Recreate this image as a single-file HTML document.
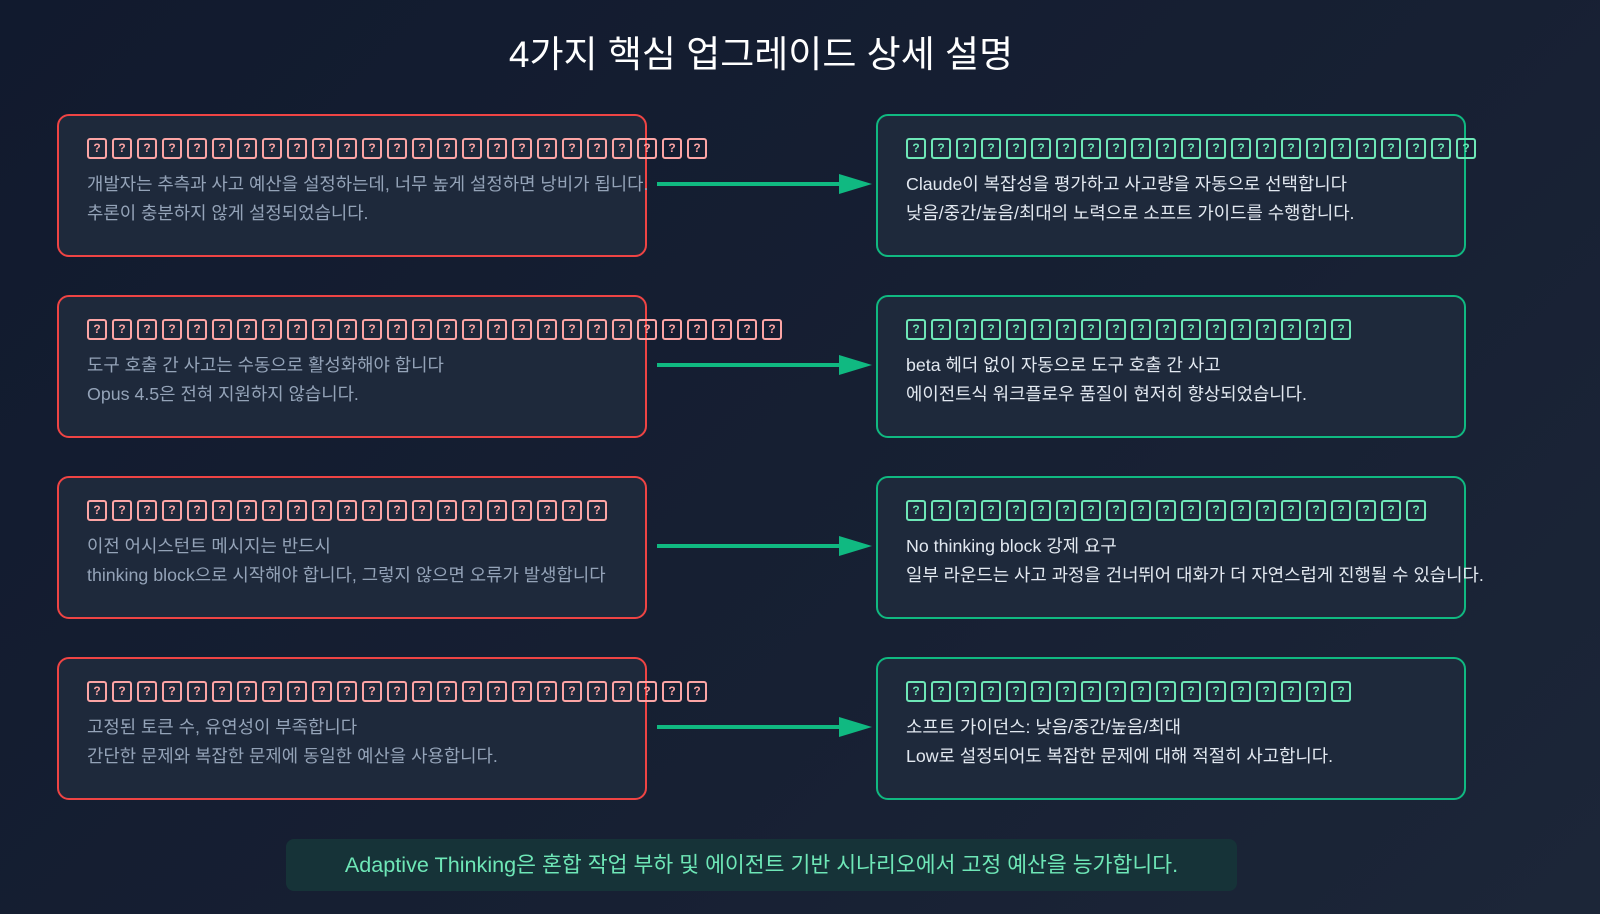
<!DOCTYPE html>
<html><head><meta charset="utf-8"><style>
*{margin:0;padding:0;box-sizing:border-box}
body{width:1600px;height:914px;overflow:hidden;background:linear-gradient(135deg,#111a2e 0%,#172033 60%,#1c2638 100%);font-family:"Liberation Sans","Noto Sans CJK KR",sans-serif;position:relative}
.title{position:absolute;top:24px;left:0;width:1522px;text-align:center;color:#fff;font-size:37px}
.box{position:absolute;width:590px;height:143px;border-radius:12px;background:#1e293b;border:2px solid}
.l{left:57px;border-color:#ef4444}
.r{left:876px;border-color:#10b981}
.tof{position:absolute;left:28px;top:22px;white-space:nowrap;display:flex;gap:5px}
.tof span{display:inline-block;width:20px;height:21px;border:2px solid;border-radius:3px;font-size:12px;line-height:17px;text-align:center;font-weight:bold}
.l .tof span{border-color:#fca5a5;color:#fca5a5}
.r .tof span{border-color:#6ee7b7;color:#6ee7b7}
.t{position:absolute;left:28px;top:54px;font-size:17.8px;line-height:29px;white-space:nowrap}
.l .t{color:#94a3b8}
.r .t{color:#e2e8f0}
.arrow{position:absolute;left:657px;width:215px;height:20px}
.banner{position:absolute;left:286px;top:839px;width:951px;height:52px;border-radius:8px;background:#163338;color:#6ee7b7;font-size:21.6px;text-align:center;line-height:52px}
</style></head><body>
<div class="title">4가지 핵심 업그레이드 상세 설명</div>

<div class="box l" style="top:114px"><div class="tof" id="a1"></div><div class="t">개발자는 추측과 사고 예산을 설정하는데, 너무 높게 설정하면 낭비가 됩니다.<br>추론이 충분하지 않게 설정되었습니다.</div></div>
<div class="box r" style="top:114px"><div class="tof" id="b1"></div><div class="t">Claude이 복잡성을 평가하고 사고량을 자동으로 선택합니다<br>낮음/중간/높음/최대의 노력으로 소프트 가이드를 수행합니다.</div></div>

<div class="box l" style="top:295px"><div class="tof" id="a2"></div><div class="t">도구 호출 간 사고는 수동으로 활성화해야 합니다<br>Opus 4.5은 전혀 지원하지 않습니다.</div></div>
<div class="box r" style="top:295px"><div class="tof" id="b2"></div><div class="t">beta 헤더 없이 자동으로 도구 호출 간 사고<br>에이전트식 워크플로우 품질이 현저히 향상되었습니다.</div></div>

<div class="box l" style="top:476px"><div class="tof" id="a3"></div><div class="t">이전 어시스턴트 메시지는 반드시<br>thinking block으로 시작해야 합니다, 그렇지 않으면 오류가 발생합니다</div></div>
<div class="box r" style="top:476px"><div class="tof" id="b3"></div><div class="t">No thinking block 강제 요구<br>일부 라운드는 사고 과정을 건너뛰어 대화가 더 자연스럽게 진행될 수 있습니다.</div></div>

<div class="box l" style="top:657px"><div class="tof" id="a4"></div><div class="t">고정된 토큰 수, 유연성이 부족합니다<br>간단한 문제와 복잡한 문제에 동일한 예산을 사용합니다.</div></div>
<div class="box r" style="top:657px"><div class="tof" id="b4"></div><div class="t">소프트 가이던스: 낮음/중간/높음/최대<br>Low로 설정되어도 복잡한 문제에 대해 적절히 사고합니다.</div></div>

<svg class="arrow" style="top:174px" viewBox="0 0 215 20"><rect x="0" y="8" width="185" height="4" fill="#10b981"/><polygon points="182,0 215,10 182,20" fill="#10b981"/></svg>
<svg class="arrow" style="top:355px" viewBox="0 0 215 20"><rect x="0" y="8" width="185" height="4" fill="#10b981"/><polygon points="182,0 215,10 182,20" fill="#10b981"/></svg>
<svg class="arrow" style="top:536px" viewBox="0 0 215 20"><rect x="0" y="8" width="185" height="4" fill="#10b981"/><polygon points="182,0 215,10 182,20" fill="#10b981"/></svg>
<svg class="arrow" style="top:717px" viewBox="0 0 215 20"><rect x="0" y="8" width="185" height="4" fill="#10b981"/><polygon points="182,0 215,10 182,20" fill="#10b981"/></svg>

<div class="banner">Adaptive Thinking은 혼합 작업 부하 및 에이전트 기반 시나리오에서 고정 예산을 능가합니다.</div>
<script>
var c={a1:25,b1:23,a2:28,b2:18,a3:21,b3:21,a4:25,b4:18};
for(var k in c){var h='';for(var i=0;i<c[k];i++)h+='<span>?</span>';document.getElementById(k).innerHTML=h;}
</script>
</body></html>
